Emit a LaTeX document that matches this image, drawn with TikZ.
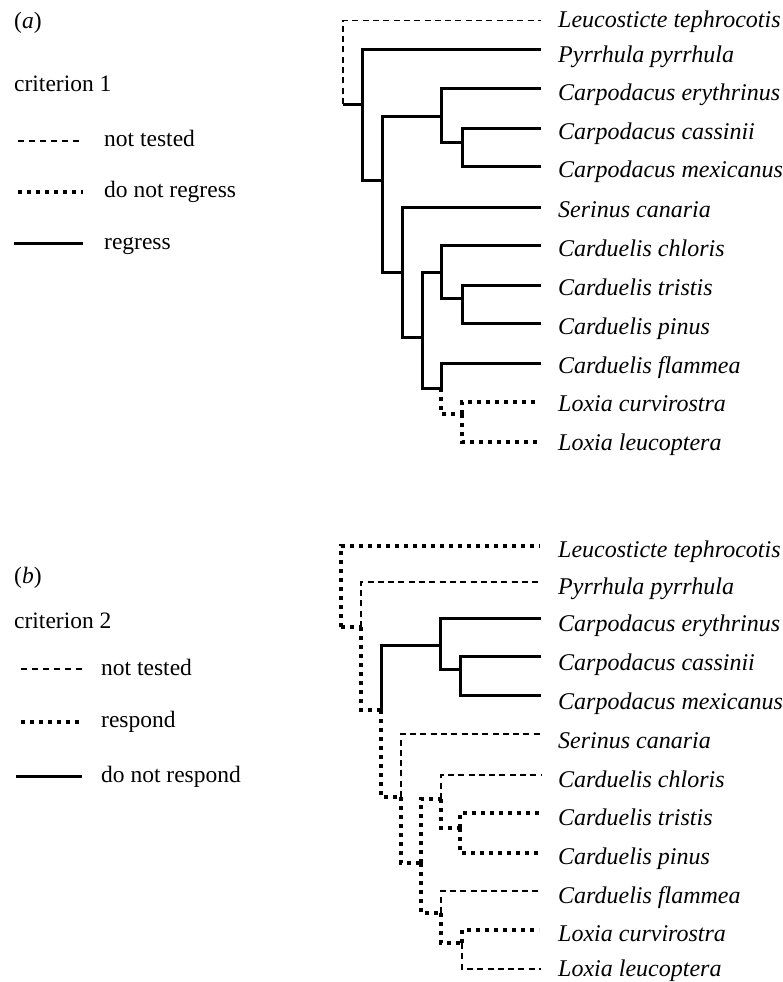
\documentclass[tikz,border=0pt]{standalone}
\usepackage{fontspec}
\setmainfont{Liberation Serif}
\begin{document}
\begin{tikzpicture}[x=1pt,y=-1pt,
  sol/.style={line width=3pt},
  dsh/.style={line width=1.6pt,dash pattern=on 6pt off 4.3pt},
  dot/.style={line width=4pt,dash pattern=on 4pt off 5pt},
  lab/.style={anchor=base west,inner sep=0pt,font=\fontsize{24}{28}\selectfont\itshape},
  leg/.style={anchor=base west,inner sep=0pt,font=\fontsize{23.5}{28}\selectfont}]
\useasboundingbox (0,0) rectangle (783,982);

% ---------- panel (a) legend
\node[leg] (pa) at (14,29) {(\textit{a})};
\node[leg] (ca) at (14,92) {criterion 1};
\coordinate (la1s) at (18,141); \coordinate (la1e) at (82,141);
\coordinate (la2s) at (18,191.5); \coordinate (la2e) at (83,191.5);
\coordinate (la3s) at (14,243); \coordinate (la3e) at (83,243);
\draw[dsh,dash pattern=on 6.3pt off 4.6pt] (la1s) -- (la1e);
\draw[dot] (la2s) -- (la2e);
\draw[sol] (la3s) -- (la3e);
\node[leg] (ta1) at (104,146) {not tested};
\node[leg] (ta2) at (104,197) {do not regress};
\node[leg] (ta3) at (104,249) {regress};

% ---------- panel (a) tree
\coordinate (R) at (343,104);
\coordinate (A) at (362,104);
\coordinate (B) at (382,180);
\coordinate (C) at (441,116);
\coordinate (E) at (462,142);
\coordinate (D) at (402,272);
\coordinate (F) at (422,337);
\coordinate (G) at (441,272);
\coordinate (I) at (462,298);
\coordinate (H) at (441,388);
\coordinate (J) at (462,414);
\coordinate (a1) at (541,20.7);
\coordinate (a2) at (541,50);
\coordinate (a3) at (541,88);
\coordinate (a4) at (541,128);
\coordinate (a5) at (541,166);
\coordinate (a6) at (541,207);
\coordinate (a7) at (541,245);
\coordinate (a8) at (541,285);
\coordinate (a9) at (541,323);
\coordinate (a10) at (541,363);
\coordinate (a11) at (539,402);
\coordinate (a12) at (539,442);
\draw[dsh] (R) |- (a1);
\draw[sol] (R) -- (A);
\draw[sol] (A) |- (a2);
\draw[sol] (A) |- (B);
\draw[sol] (B) |- (C);
\draw[sol] (B) |- (D);
\draw[sol] (C) |- (a3);
\draw[sol] (C) |- (E);
\draw[sol] (E) |- (a4);
\draw[sol] (E) |- (a5);
\draw[sol] (D) |- (a6);
\draw[sol] (D) |- (F);
\draw[sol] (F) |- (G);
\draw[sol] (F) |- (H);
\draw[sol] (G) |- (a7);
\draw[sol] (G) |- (I);
\draw[sol] (I) |- (a8);
\draw[sol] (I) |- (a9);
\draw[sol] (H) |- (a10);
\draw[dot] (H) |- (J);
\draw[dot] (J) |- (a11);
\draw[dot] (J) |- (a12);

\node[lab] (na1) at (558,28) {Leucosticte tephrocotis};
\node[lab] (na2) at (558,63) {Pyrrhula pyrrhula};
\node[lab] (na3) at (558,100) {Carpodacus erythrinus};
\node[lab] (na4) at (558,139) {Carpodacus cassinii};
\node[lab] (na5) at (558,177) {Carpodacus mexicanus};
\node[lab] (na6) at (558,217) {Serinus canaria};
\node[lab] (na7) at (558,256) {Carduelis chloris};
\node[lab] (na8) at (558,295) {Carduelis tristis};
\node[lab] (na9) at (558,334) {Carduelis pinus};
\node[lab] (na10) at (558,373) {Carduelis flammea};
\node[lab] (na11) at (558,411) {Loxia curvirostra};
\node[lab] (na12) at (558,450) {Loxia leucoptera};

% ---------- panel (b) legend
\node[leg] (pb) at (14,583) {(\textit{b})};
\node[leg] (cb) at (14,628) {criterion 2};
\coordinate (lb1s) at (21,669); \coordinate (lb1e) at (82,669);
\coordinate (lb2s) at (21,722); \coordinate (lb2e) at (83,722);
\coordinate (lb3s) at (16,776); \coordinate (lb3e) at (82,776);
\draw[dsh,dash pattern=on 6.3pt off 4.6pt] (lb1s) -- (lb1e);
\draw[dot] (lb2s) -- (lb2e);
\draw[sol] (lb3s) -- (lb3e);
\node[leg] (tb1) at (101,675) {not tested};
\node[leg] (tb2) at (101,727) {respond};
\node[leg] (tb3) at (101,782) {do not respond};

% ---------- panel (b) tree
\coordinate (R2) at (341,627);
\coordinate (A2) at (361,627);
\coordinate (B2) at (381,710);
\coordinate (C2) at (440,645);
\coordinate (E2) at (460,669);
\coordinate (D2) at (401,797);
\coordinate (F2) at (421,863);
\coordinate (G2) at (441,799);
\coordinate (I2) at (460,828);
\coordinate (H2) at (441,913);
\coordinate (J2) at (462,943);
\coordinate (b1) at (540,546);
\coordinate (b2) at (541,582);
\coordinate (b3) at (541,618);
\coordinate (b4) at (541,656);
\coordinate (b5) at (541,695);
\coordinate (b6) at (541,734);
\coordinate (b7) at (541,775);
\coordinate (b8) at (539,813);
\coordinate (b9) at (539,853);
\coordinate (b10) at (541,891);
\coordinate (b11) at (539,930);
\coordinate (b12) at (541,969);
\draw[dot] (R2) |- (b1);
\draw[dot] (R2) -- (A2);
\draw[dsh] (A2) |- (b2);
\draw[dot] (A2) |- (B2);
\draw[sol] (B2) |- (C2);
\draw[dot] (B2) |- (D2);
\draw[sol] (C2) |- (b3);
\draw[sol] (C2) |- (E2);
\draw[sol] (E2) |- (b4);
\draw[sol] (E2) |- (b5);
\draw[dsh] (D2) |- (b6);
\draw[dot] (D2) |- (F2);
\draw[dot] (F2) |- (G2);
\draw[dot] (F2) |- (H2);
\draw[dsh] (G2) |- (b7);
\draw[dot] (G2) |- (I2);
\draw[dot] (I2) |- (b8);
\draw[dot] (I2) |- (b9);
\draw[dsh] (H2) |- (b10);
\draw[dot] (H2) |- (J2);
\draw[dot] (J2) |- (b11);
\draw[dsh] (J2) |- (b12);

\node[lab] (nb1) at (558,557) {Leucosticte tephrocotis};
\node[lab] (nb2) at (558,594) {Pyrrhula pyrrhula};
\node[lab] (nb3) at (558,631) {Carpodacus erythrinus};
\node[lab] (nb4) at (558,670) {Carpodacus cassinii};
\node[lab] (nb5) at (558,709) {Carpodacus mexicanus};
\node[lab] (nb6) at (558,748) {Serinus canaria};
\node[lab] (nb7) at (558,787) {Carduelis chloris};
\node[lab] (nb8) at (558,825) {Carduelis tristis};
\node[lab] (nb9) at (558,864) {Carduelis pinus};
\node[lab] (nb10) at (558,903) {Carduelis flammea};
\node[lab] (nb11) at (558,941) {Loxia curvirostra};
\node[lab] (nb12) at (558,976.5) {Loxia leucoptera};
\end{tikzpicture}
\end{document}
